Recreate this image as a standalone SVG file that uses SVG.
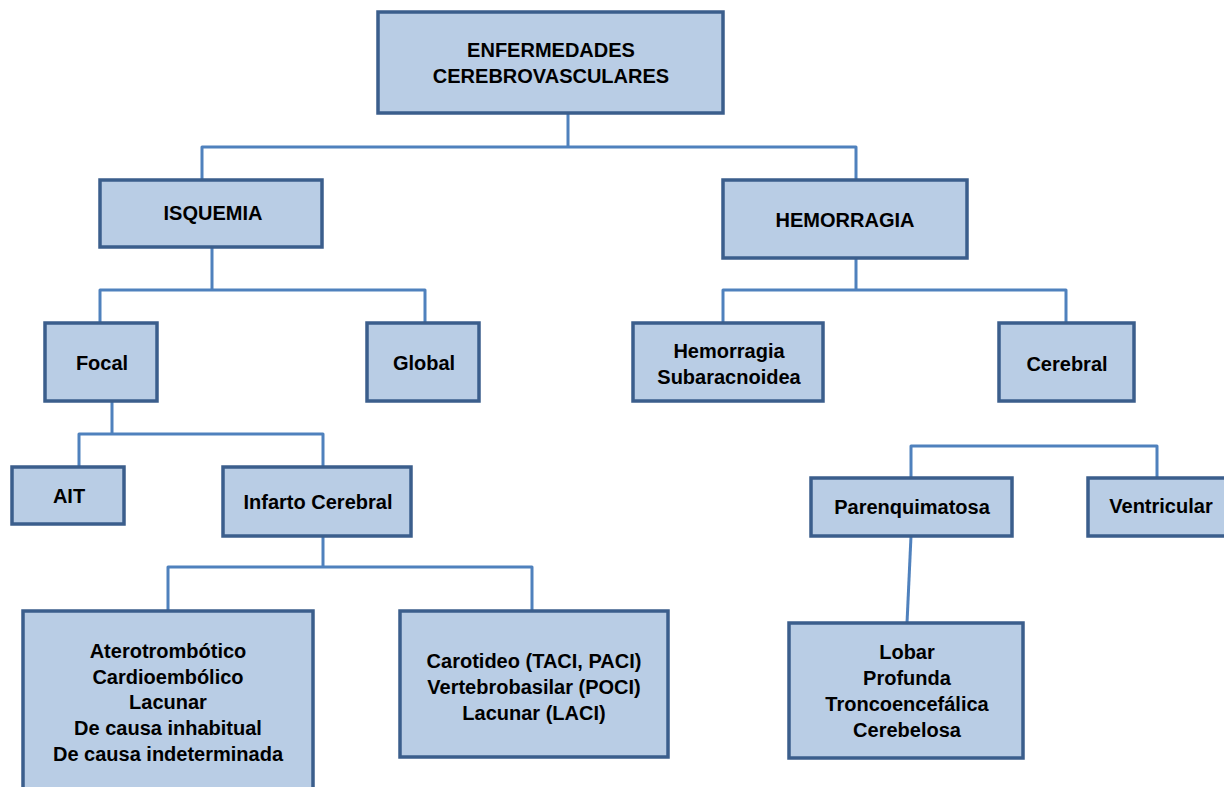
<svg xmlns="http://www.w3.org/2000/svg" width="1224" height="787" viewBox="0 0 1224 787">
<style>
.box{fill:#B9CDE5;stroke:#3B5E8C;stroke-width:3.5}
.t{font-family:"Liberation Sans",Arial,sans-serif;font-size:20px;font-weight:bold;fill:#000;text-anchor:middle}
.c{fill:none;stroke:#4F81BD;stroke-width:3;stroke-linejoin:round}
</style>
<rect width="1224" height="787" fill="#fff"/>
<g id="connectors">
<path class="c" d="M568,113 V147 M202,180 V147 H856 V180"/>
<path class="c" d="M212,247 V290 M100,323 V290 H425 V323"/>
<path class="c" d="M856,258 V290 M723,323 V290 H1066 V323"/>
<path class="c" d="M112,401 V434 M79,467 V434 H323 V467"/>
<path class="c" d="M323,536 V567 M168,611 V567 H532 V611"/>
<path class="c" d="M911,478 V446 H1157 V478"/>
<path class="c" d="M911,536 L907,623"/>
</g>
<g id="root"><rect class="box" x="378" y="12" width="345" height="101"/>
<text class="t" x="551" y="57">ENFERMEDADES</text><text class="t" x="551" y="83">CEREBROVASCULARES</text></g>
<g id="isquemia"><rect class="box" x="100" y="180" width="222" height="67"/><text class="t" x="213" y="220">ISQUEMIA</text></g>
<g id="hemorragia"><rect class="box" x="723" y="180" width="244" height="78"/><text class="t" x="845" y="227">HEMORRAGIA</text></g>
<g id="focal"><rect class="box" x="45" y="323" width="112" height="78"/><text class="t" x="102" y="370">Focal</text></g>
<g id="global"><rect class="box" x="367" y="323" width="112" height="78"/><text class="t" x="424" y="370">Global</text></g>
<g id="hsa"><rect class="box" x="633" y="323" width="190" height="78"/><text class="t" x="729" y="358">Hemorragia</text><text class="t" x="729" y="384">Subaracnoidea</text></g>
<g id="cerebral"><rect class="box" x="999" y="323" width="135" height="78"/><text class="t" x="1067" y="371">Cerebral</text></g>
<g id="ait"><rect class="box" x="12" y="467" width="112" height="57"/><text class="t" x="69" y="503">AIT</text></g>
<g id="infarto"><rect class="box" x="223" y="467" width="188" height="69"/><text class="t" x="318" y="509">Infarto Cerebral</text></g>
<g id="parenquimatosa"><rect class="box" x="811" y="478" width="201" height="58"/><text class="t" x="912" y="514">Parenquimatosa</text></g>
<g id="ventricular"><rect class="box" x="1088" y="478" width="146" height="58"/><text class="t" x="1161" y="513">Ventricular</text></g>
<g id="etiologia"><rect class="box" x="23" y="611" width="290" height="190"/>
<text class="t" x="168" y="658">Aterotrombótico</text><text class="t" x="168" y="684">Cardioembólico</text><text class="t" x="168" y="709">Lacunar</text><text class="t" x="168" y="735">De causa inhabitual</text><text class="t" x="168" y="761">De causa indeterminada</text></g>
<g id="topografia"><rect class="box" x="400" y="611" width="268" height="146"/>
<text class="t" x="534" y="668">Carotideo (TACI, PACI)</text><text class="t" x="534" y="694">Vertebrobasilar (POCI)</text><text class="t" x="534" y="720">Lacunar (LACI)</text></g>
<g id="localizacion"><rect class="box" x="789" y="623" width="234" height="135"/>
<text class="t" x="907" y="659">Lobar</text><text class="t" x="907" y="685">Profunda</text><text class="t" x="907" y="711">Troncoencefálica</text><text class="t" x="907" y="737">Cerebelosa</text></g>
</svg>
